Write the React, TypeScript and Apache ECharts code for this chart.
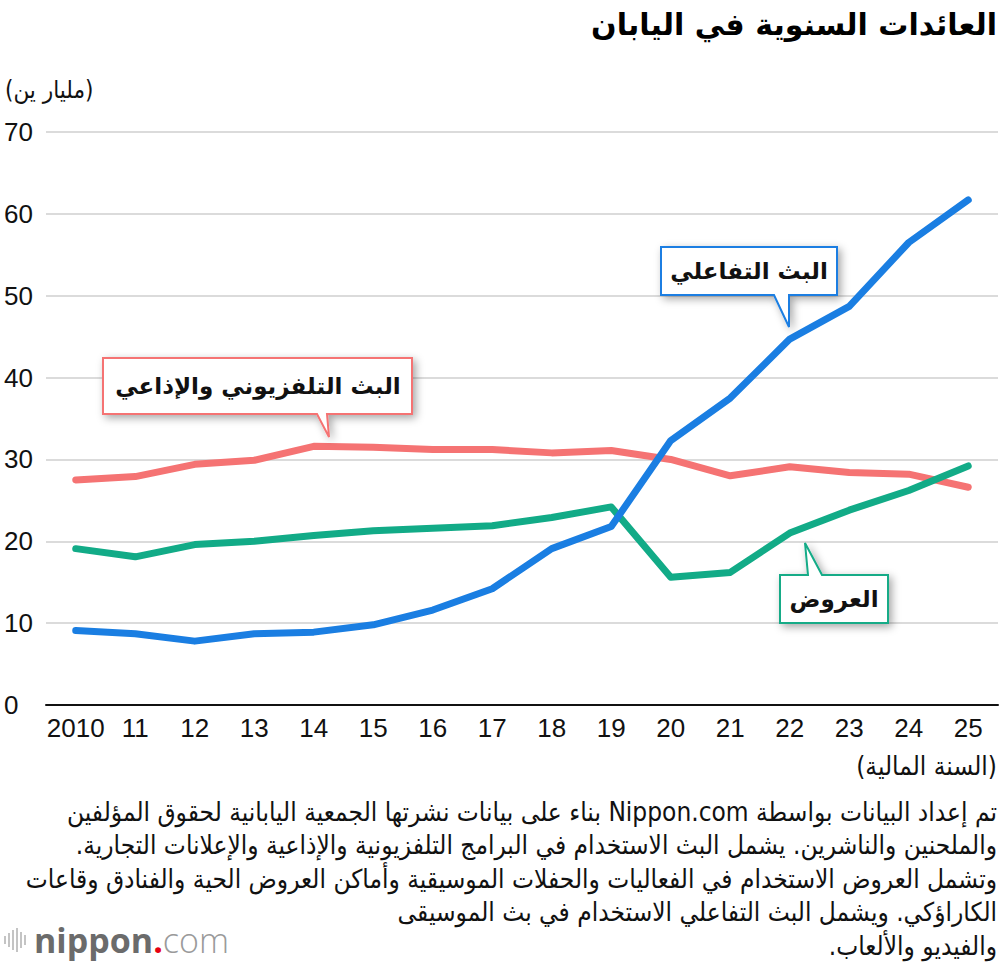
import React, { useEffect, useRef } from "react";
import * as echarts from "echarts";

// Fiscal years (2010 … 2025)
const YEARS = ["2010", "11", "12", "13", "14", "15", "16", "17", "18", "19", "20", "21", "22", "23", "24", "25"];

// Annual revenue, billions of yen
const BROADCAST = [27.5, 27.9, 29.4, 29.9, 31.6, 31.5, 31.2, 31.2, 30.8, 31.1, 30.0, 28.0, 29.1, 28.4, 28.2, 26.6];
const PERFORMANCE = [19.1, 18.1, 19.6, 20.0, 20.7, 21.3, 21.6, 21.9, 22.9, 24.2, 15.6, 16.2, 21.0, 23.8, 26.2, 29.2];
const STREAMING = [9.1, 8.7, 7.8, 8.7, 8.9, 9.8, 11.6, 14.2, 19.1, 21.8, 32.3, 37.5, 44.7, 48.7, 56.5, 61.7];

const SERIES_NAMES = ["البث التلفزيوني والإذاعي", "العروض", "البث التفاعلي"];

const TITLE = "العائدات السنوية في اليابان";
const UNIT = "(مليار ين)";
const X_NAME = "(السنة المالية)";
const NOTES = [
  "تم إعداد البيانات بواسطة Nippon.com بناء على بيانات نشرتها الجمعية اليابانية لحقوق المؤلفين",
  "والملحنين والناشرين. يشمل البث الاستخدام في البرامج التلفزيونية والإذاعية والإعلانات التجارية.",
  "وتشمل العروض الاستخدام في الفعاليات والحفلات الموسيقية وأماكن العروض الحية والفنادق وقاعات",
  "الكاراؤكي. ويشمل البث التفاعلي الاستخدام في بث الموسيقى",
  "والفيديو والألعاب.",
];

const RED = "#f57373";
const GREEN = "#12ab87";
const BLUE = "#1a7ee2";

const AR_FONT = "'DejaVu Sans', sans-serif";
const AR_COND = "'DejaVu Sans Condensed', 'DejaVu Sans', sans-serif";
const NUM_FONT = "'Liberation Sans', Arial, sans-serif";

// right-to-left embedding so mixed Latin/Arabic lines order correctly
const rtl = (s: string) => "\u202B" + s + "\u202C";

function callout(points: number[][], color: string, text: string, cx: number, cy: number) {
  return {
    type: "group",
    z: 100,
    children: [
      {
        type: "polygon",
        z: 100,
        shape: { points },
        style: {
          fill: "#ffffff",
          stroke: color,
          lineWidth: 2,
          shadowBlur: 8,
          shadowColor: "rgba(0,0,0,0.35)",
          shadowOffsetX: 3,
          shadowOffsetY: 3,
        },
      },
      {
        type: "text",
        z: 101,
        x: cx,
        y: cy,
        style: {
          text,
          fill: "#111",
          font: `bold 23px ${AR_FONT}`,
          textAlign: "center",
          textVerticalAlign: "middle",
        },
      },
    ],
  };
}

export default function App() {
  const ref = useRef<HTMLDivElement>(null);

  useEffect(() => {
    document.body.style.margin = "0";
    const chart = echarts.init(ref.current!, null, { renderer: "svg" });

    const lineSeries = (name: string, data: number[], color: string) => ({
      name,
      type: "line",
      data,
      symbol: "none",
      lineStyle: { color, width: 7, cap: "round", join: "round" },
      itemStyle: { color },
    });

    chart.setOption({
      animation: false,
      backgroundColor: "#ffffff",
      grid: { left: 46, right: 2, top: 132, bottom: 259 },
      xAxis: {
        type: "category",
        data: YEARS,
        boundaryGap: true,
        axisLine: { lineStyle: { color: "#111", width: 2 } },
        axisTick: { alignWithLabel: true, inside: true, length: 14, lineStyle: { color: "#cfcfcf", width: 1.5 } },
        axisLabel: { interval: 0, fontSize: 26, color: "#111", margin: 10, fontFamily: NUM_FONT },
      },
      yAxis: {
        type: "value",
        min: 0,
        max: 70,
        interval: 10,
        axisLine: { show: false },
        axisTick: { show: false },
        splitLine: { lineStyle: { color: "#cfcfcf", width: 1.5 } },
        axisLabel: { fontSize: 26, color: "#111", align: "left", margin: 42, fontFamily: NUM_FONT },
      },
      series: [
        lineSeries(SERIES_NAMES[0], BROADCAST, RED),
        lineSeries(SERIES_NAMES[1], PERFORMANCE, GREEN),
        lineSeries(SERIES_NAMES[2], STREAMING, BLUE),
      ],
      graphic: [
        {
          type: "text",
          right: 3,
          top: 9,
          style: { text: TITLE, fill: "#000", font: `bold 30px ${AR_FONT}` },
        },
        {
          type: "text",
          x: 5,
          y: 90,
          style: { text: rtl(UNIT), fill: "#111", font: `24px ${AR_COND}`, textAlign: "left", textVerticalAlign: "middle" },
        },
        {
          type: "text",
          x: 997,
          y: 766,
          style: { text: rtl(X_NAME), fill: "#111", font: `26px ${AR_COND}`, textAlign: "right", textVerticalAlign: "middle" },
        },
        ...NOTES.map((line, i) => ({
          type: "text",
          x: 997,
          y: 812 + i * 33.4,
          style: { text: rtl(line), fill: "#111", font: `26px ${AR_COND}`, textAlign: "right", textVerticalAlign: "middle" },
        })),
        callout(
          [[661, 247], [837, 247], [837, 295], [789, 295], [789, 327], [774, 295], [661, 295]],
          BLUE, SERIES_NAMES[2], 749, 271
        ),
        callout(
          [[103, 358], [412, 358], [412, 414], [327, 414], [329, 437], [317, 414], [103, 414]],
          RED, SERIES_NAMES[0], 258, 386
        ),
        callout(
          [[780, 575], [808, 575], [805, 543], [822, 575], [888, 575], [888, 623], [780, 623]],
          GREEN, SERIES_NAMES[1], 834, 599
        ),
        // nippon.com mark
        {
          type: "group",
          children: [
            ...[[4, 8], [8, 14], [12, 20], [16, 24], [20, 16], [24, 10]].map(([x, h]) => ({
              type: "rect",
              shape: { x, y: 940 - h / 2, width: 2, height: h },
              style: { fill: "#c4c4c4" },
            })),
            {
              type: "text",
              x: 34,
              y: 940,
              style: {
                text: "{a|nippon}{b|.}{c|com}",
                textVerticalAlign: "middle",
                rich: {
                  a: { fontSize: 34, fontWeight: "bold", fill: "#6b6b6b", fontFamily: "'Open Sans', sans-serif" },
                  b: { fontSize: 34, fontWeight: "bold", fill: "#e60012", fontFamily: "'Open Sans', sans-serif" },
                  c: { fontSize: 34, fontWeight: 300, fill: "#9a9a9a", fontFamily: "'Open Sans', sans-serif" },
                },
              },
            },
          ],
        },
      ],
    });

    return () => chart.dispose();
  }, []);

  return <div ref={ref} style={{ position: "absolute", left: 0, top: 0, width: 1000, height: 964 }} />;
}
